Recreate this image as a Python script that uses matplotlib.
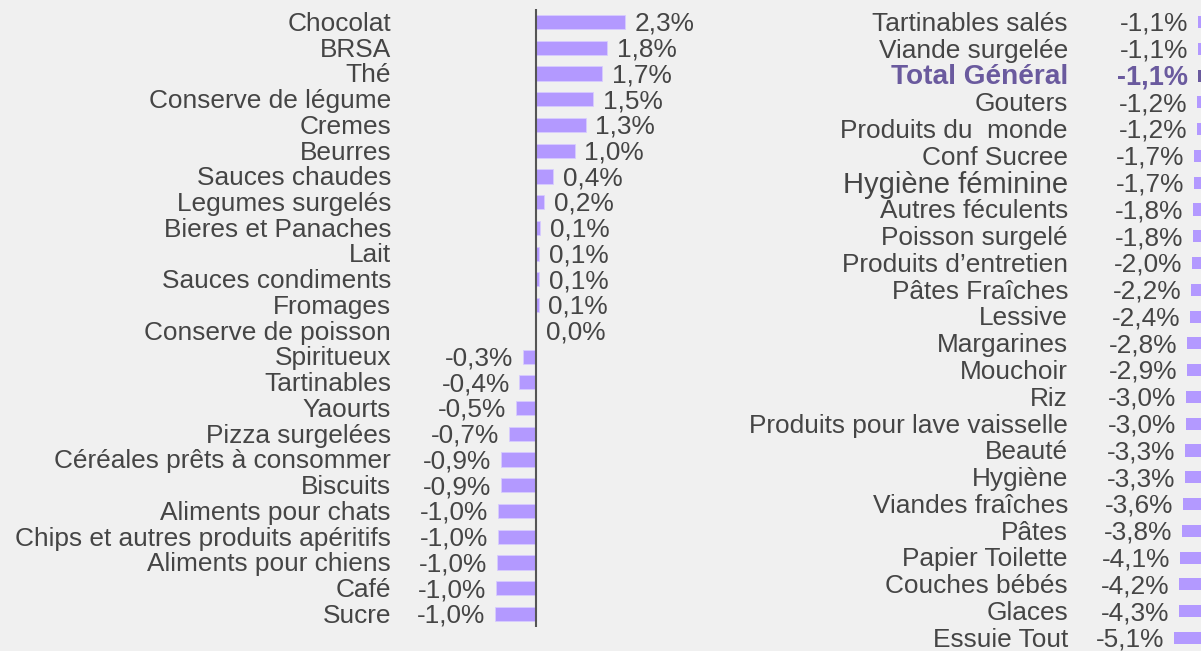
import matplotlib
matplotlib.use("Agg")
import matplotlib.pyplot as plt
import matplotlib.transforms as mtransforms

left_labels = ["Chocolat", "BRSA", "Thé", "Conserve de légume", "Cremes", "Beurres",
               "Sauces chaudes", "Legumes surgelés", "Bieres et Panaches", "Lait",
               "Sauces condiments", "Fromages", "Conserve de poisson", "Spiritueux",
               "Tartinables", "Yaourts", "Pizza surgelées", "Céréales prêts à consommer",
               "Biscuits", "Aliments pour chats", "Chips et autres produits apéritifs",
               "Aliments pour chiens", "Café", "Sucre"]
left_values = [2.3, 1.8, 1.7, 1.5, 1.3, 1.0, 0.4, 0.2, 0.1, 0.1, 0.1, 0.1, 0.0,
               -0.3, -0.4, -0.5, -0.7, -0.9, -0.9, -1.0, -1.0, -1.0, -1.0, -1.0]
left_bar_values = [2.3, 1.83, 1.71, 1.48, 1.28, 1.0, 0.45, 0.21, 0.1, 0.09, 0.08, 0.07, 0.0,
                   -0.33, -0.43, -0.52, -0.7, -0.9, -0.91, -0.99, -0.99, -1.02, -1.03, -1.06]

right_labels = ["Tartinables salés", "Viande surgelée", "Total Général", "Gouters",
                "Produits du  monde", "Conf Sucree", "Hygiène féminine", "Autres féculents",
                "Poisson surgelé", "Produits d\u2019entretien", "Pâtes Fraîches", "Lessive",
                "Margarines", "Mouchoir", "Riz", "Produits pour lave vaisselle", "Beauté",
                "Hygiène", "Viandes fraîches", "Pâtes", "Papier Toilette", "Couches bébés",
                "Glaces", "Essuie Tout"]
right_values = [-1.1, -1.1, -1.1, -1.2, -1.2, -1.7, -1.7, -1.8, -1.8, -2.0, -2.2, -2.4,
                -2.8, -2.9, -3.0, -3.0, -3.3, -3.3, -3.6, -3.8, -4.1, -4.2, -4.3, -5.1]

BG = "#f0f0f0"
BAR = "#b399ff"
DARK = "#6a5a9e"
TXT = "#454545"
FS = 18.9
DY = -1.3  # small downward text shift (points)

plt.rcParams["font.family"] = ["Liberation Sans", "DejaVu Sans"]

W, H = 1201, 651
fig = plt.figure(figsize=(W / 100, H / 100), dpi=100, facecolor=BG)


def fmt(v):
    return ("%.1f%%" % v).replace(".", ",")


def px_axes(x0, x1, y0, y1):
    # pixel coordinates from top-left
    return fig.add_axes([x0 / W, 1 - y1 / H, (x1 - x0) / W, (y1 - y0) / H])

# ---------------- left panel ----------------
n_l = len(left_labels)
zero_l, scale_l = 536, 38.7
ax1x0, ax1x1 = 400, 720
axt, axb = 9, 627
ax1 = px_axes(ax1x0, ax1x1, axt, axb)
ax1.set_facecolor("none")
ax1.set_xlim((ax1x0 - zero_l) / scale_l, (ax1x1 - zero_l) / scale_l)
pitch_l = (614 - 22) / (n_l - 1)
ax1.set_ylim((n_l - 1) + (axb - 614) / pitch_l, -(22 - axt) / pitch_l)
ax1.axis("off")
ypos = list(range(n_l))
ax1.barh(ypos, left_bar_values, height=0.55, color=BAR, edgecolor="#d8ccff", linewidth=0.6)
ax1.axvline(0, color="#555555", lw=1.5, ymin=0, ymax=1)
tl = mtransforms.blended_transform_factory(fig.transFigure, ax1.transData)
for i, (lab, v, bv) in enumerate(zip(left_labels, left_values, left_bar_values)):
    ax1.annotate(lab, (391 / W, i), xycoords=tl, xytext=(0, DY), textcoords="offset points",
                 ha="right", va="center", fontsize=FS, color=TXT)
    if bv >= 0:
        ax1.annotate(fmt(v), (bv, i), xytext=(7, DY), textcoords="offset points",
                     ha="left", va="center", fontsize=FS, color=TXT)
    else:
        ax1.annotate(fmt(v), (bv, i), xytext=(-7, DY), textcoords="offset points",
                     ha="right", va="center", fontsize=FS, color=TXT)

# ---------------- right panel ----------------
n_r = len(right_labels)
zero_r, scale_r = 1204, 5.9
ax2x0, ax2x1 = 1100, 1204
ax2t, ax2b = 9, 651
ax2 = px_axes(ax2x0, ax2x1, ax2t, ax2b)
ax2.set_facecolor("none")
ax2.set_xlim((ax2x0 - zero_r) / scale_r, 0)
pitch_r = (638 - 22) / (n_r - 1)
ax2.set_ylim((n_r - 1) + (ax2b - 638) / pitch_r, -(22 - ax2t) / pitch_r)
ax2.axis("off")
ypos_r = list(range(n_r))
colors_r = [DARK if lab == "Total Général" else BAR for lab in right_labels]
ax2.barh(ypos_r, right_values, height=0.45, color=colors_r)
tr = mtransforms.blended_transform_factory(fig.transFigure, ax2.transData)
for i, (lab, v) in enumerate(zip(right_labels, right_values)):
    total = lab == "Total Général"
    col = DARK if total else TXT
    fw = "bold" if total else "normal"
    fs = FS
    if lab == "Hygiène féminine":
        fs = 21
    if total:
        fs = 20.2
    ax2.annotate(lab, (1068 / W, i), xycoords=tr, xytext=(0, DY), textcoords="offset points",
                 ha="right", va="center", fontsize=fs, color=col, fontweight=fw)
    ax2.annotate(fmt(v), (v, i), xytext=(-7, DY), textcoords="offset points",
                 ha="right", va="center", fontsize=FS + (0.6 if total else 0),
                 color=col, fontweight=fw)

fig.savefig("out.png", dpi=100, facecolor=BG)
